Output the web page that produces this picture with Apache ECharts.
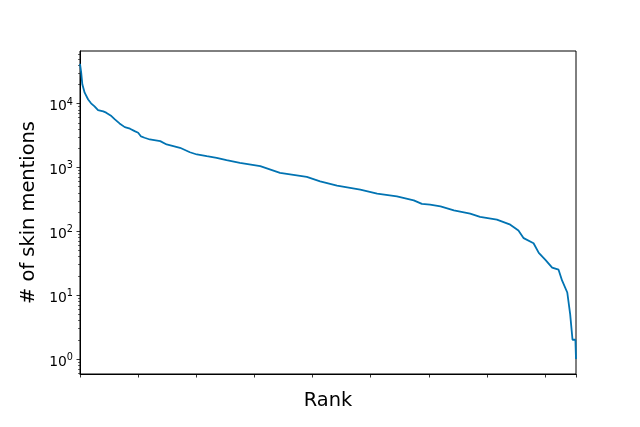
<!DOCTYPE html>
<html>
<head>
<meta charset="utf-8">
<script src="https://cdn.jsdelivr.net/npm/echarts@6/dist/echarts.min.js"></script>
<style>html,body{margin:0;padding:0;background:#fff}#c{width:640px;height:427px}</style>
</head>
<body>
<div id="c"></div>
<script>
// Rank positions
const ranks = [0, 2, 4, 8, 14, 19, 25, 31, 40, 45, 54, 60, 68, 77, 86, 94, 100, 105, 111, 120,
  138, 149, 172, 189, 201, 218, 235, 252, 275, 310, 344, 390, 413, 442, 482, 511, 545, 574,
  588, 602, 620, 643, 671, 688, 717, 740, 754, 763, 780, 789, 800, 812, 823, 829, 838, 843,
  847, 852, 853];
// # of skin mentions at those ranks
const mentions = [42000, 30900, 20000, 14800, 11600, 10100, 9040, 7900, 7550, 7200, 6370, 5650,
  4890, 4280, 4040, 3700, 3490, 3055, 2915, 2740, 2580, 2290, 2030, 1730, 1595, 1500, 1415,
  1300, 1180, 1045, 823, 712, 607, 520, 450, 389, 353, 305, 268, 262, 246, 213, 189, 168, 152,
  127, 103, 78, 65, 46, 36, 27, 25, 17, 11, 5, 2, 2, 1];
const majorTicks = [1, 10, 100, 1000, 10000];
const minorTicks = [0.6, 0.7, 0.8, 0.9,
  2, 3, 4, 5, 6, 7, 8, 9,
  20, 30, 40, 50, 60, 70, 80, 90,
  200, 300, 400, 500, 600, 700, 800, 900,
  2000, 3000, 4000, 5000, 6000, 7000, 8000, 9000,
  20000, 30000, 40000, 50000, 60000];
const xTickStep = 100;

const seriesData = ranks.map((r, i) => [r, mentions[i]]);
const FONT = 'DejaVu Sans';
const yMin = 0.582, yMax = 66600;

const chart = echarts.init(document.getElementById('c'), null, {renderer: 'canvas'});
chart.setOption({
  animation: false,
  backgroundColor: '#fff',
  grid: {left: 80, top: 51, width: 496, height: 323, show: true, borderColor: '#000', borderWidth: 1, backgroundColor: 'transparent'},
  xAxis: {
    type: 'value', min: 0, max: 853, interval: xTickStep,
    name: 'Rank', nameLocation: 'middle', nameGap: 17,
    nameTextStyle: {fontFamily: FONT, fontSize: 19.4, color: '#000'},
    axisLine: {show: true, lineStyle: {color: '#000', width: 1}},
    axisTick: {show: true, inside: false, length: 3.5, lineStyle: {color: '#000', width: 0.8}},
    axisLabel: {show: false},
    splitLine: {show: false}
  },
  yAxis: [{
    type: 'log', logBase: 10, min: yMin, max: yMax,
    name: '# of skin mentions', nameLocation: 'middle', nameGap: 36, nameRotate: 90,
    nameTextStyle: {fontFamily: FONT, fontSize: 19.4, color: '#000'},
    axisLine: {show: true, lineStyle: {color: '#000', width: 1}},
    axisTick: {show: true, length: 3.5, lineStyle: {color: '#000', width: 0.8}, customValues: majorTicks},
    axisLabel: {
      show: true, margin: 7, customValues: majorTicks, padding: [6, 0, 0, 0],
      formatter: v => '{b|10}{s|' + Math.round(Math.log10(v)) + '}',
      rich: {
        b: {fontFamily: FONT, fontSize: 13.9, color: '#000'},
        s: {fontFamily: FONT, fontSize: 9.7, color: '#000', padding: [0, 0, 9, 0]}
      }
    },
    splitLine: {show: false}
  }, {
    type: 'log', logBase: 10, min: yMin, max: yMax, position: 'left',
    axisLine: {show: false},
    axisTick: {show: true, length: 2, lineStyle: {color: '#000', width: 0.6}, customValues: minorTicks},
    axisLabel: {show: false},
    splitLine: {show: false}
  }],
  series: [{
    type: 'line', data: seriesData, yAxisIndex: 0,
    showSymbol: false, symbol: 'none',
    lineStyle: {color: '#0173b2', width: 1.8},
    silent: true
  }]
});
</script>
</body>
</html>
